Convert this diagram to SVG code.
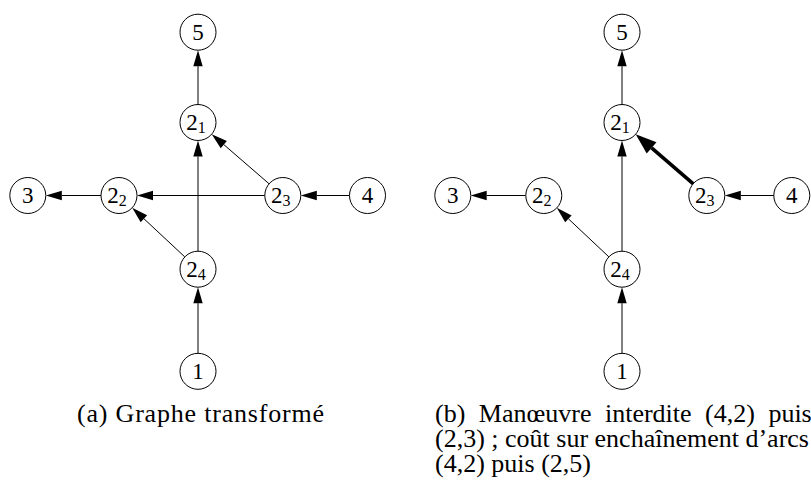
<svg xmlns="http://www.w3.org/2000/svg" width="811" height="484" viewBox="0 0 811 484">
<style>
.node circle{fill:#fff;stroke:#000;stroke-width:1}
.node text{font-family:'Liberation Serif','DejaVu Serif','Times New Roman',serif;font-size:23px;text-anchor:middle;fill:#000}
.sub{font-size:16px}
.edge{stroke:#000;stroke-width:1;fill:none;marker-end:url(#arr)}
.bold{stroke:#000;stroke-width:3.6;fill:none;marker-end:url(#arrb)}
.cap{font-family:'Liberation Serif','DejaVu Serif','Times New Roman',serif;font-size:26px;fill:#000}
</style>
<defs>
<marker id="arr" markerUnits="userSpaceOnUse" markerWidth="16" markerHeight="10" refX="0" refY="5" orient="auto" overflow="visible">
<path d="M0,0.3 L16,5 L0,9.7 z" fill="#000"/>
</marker>
<marker id="arrb" markerUnits="userSpaceOnUse" markerWidth="21" markerHeight="15" refX="0" refY="7.5" orient="auto" overflow="visible">
<path d="M0,0 L21,7.5 L0,15 z" fill="#000"/>
</marker>
</defs>
<rect width="811" height="484" fill="#fff"/>

<!-- Graph (a) -->
<g id="edges-a">
<line class="edge" x1="198" y1="353.3" x2="198" y2="303.2"/>
<line class="edge" x1="198" y1="251.2" x2="198" y2="156.5"/>
<line class="edge" x1="198" y1="104.5" x2="198" y2="66.2"/>
<line class="edge" x1="349.5" y1="195.5" x2="316.8" y2="195.5"/>
<line class="edge" x1="264.8" y1="195.5" x2="153" y2="195.5"/>
<line class="edge" x1="101" y1="195.5" x2="61.8" y2="195.5"/>
<line class="edge" x1="269.1" y1="183.8" x2="223.8" y2="144.6"/>
<line class="edge" x1="184.8" y1="256.9" x2="143.9" y2="218.7"/>
</g>
<g id="a-n5" class="node"><circle cx="198" cy="32.2" r="18"/><text x="198" y="40">5</text></g>
<g id="a-n21" class="node"><circle cx="198" cy="122.5" r="18"/><text x="196" y="130.3">2<tspan class="sub" dy="3">1</tspan></text></g>
<g id="a-n3" class="node"><circle cx="27.8" cy="195.5" r="18"/><text x="27.8" y="203.3">3</text></g>
<g id="a-n22" class="node"><circle cx="119" cy="195.5" r="18"/><text x="117" y="203.3">2<tspan class="sub" dy="3">2</tspan></text></g>
<g id="a-n23" class="node"><circle cx="282.8" cy="195.5" r="18"/><text x="280.8" y="203.3">2<tspan class="sub" dy="3">3</tspan></text></g>
<g id="a-n4" class="node"><circle cx="367.5" cy="195.5" r="18"/><text x="367.5" y="203.3">4</text></g>
<g id="a-n24" class="node"><circle cx="198" cy="269.2" r="18"/><text x="196" y="277">2<tspan class="sub" dy="3">4</tspan></text></g>
<g id="a-n1" class="node"><circle cx="198" cy="371.3" r="18"/><text x="198" y="379.1">1</text></g>
<text class="cap" x="77" y="422" textLength="247" lengthAdjust="spacing">(a) Graphe transformé</text>

<!-- Graph (b) -->
<g id="edges-b">
<line class="edge" x1="622" y1="353.3" x2="622" y2="303.2"/>
<line class="edge" x1="622" y1="251.2" x2="622" y2="156.5"/>
<line class="edge" x1="622" y1="104.5" x2="622" y2="66.2"/>
<line class="edge" x1="774" y1="195.5" x2="740.8" y2="195.5"/>
<line class="edge" x1="525.7" y1="195.5" x2="486.7" y2="195.5"/>
<line class="bold" x1="693.3" y1="183.8" x2="651.6" y2="147.9"/>
<line class="edge" x1="608.9" y1="256.9" x2="568.4" y2="218.8"/>
</g>
<g id="b-n5" class="node"><circle cx="622" cy="32.2" r="18"/><text x="622" y="40">5</text></g>
<g id="b-n21" class="node"><circle cx="622" cy="122.5" r="18"/><text x="620" y="130.3">2<tspan class="sub" dy="3">1</tspan></text></g>
<g id="b-n3" class="node"><circle cx="452.8" cy="195.5" r="18"/><text x="452.8" y="203.3">3</text></g>
<g id="b-n22" class="node"><circle cx="543.8" cy="195.5" r="18"/><text x="541.8" y="203.3">2<tspan class="sub" dy="3">2</tspan></text></g>
<g id="b-n23" class="node"><circle cx="706.8" cy="195.5" r="18"/><text x="704.8" y="203.3">2<tspan class="sub" dy="3">3</tspan></text></g>
<g id="b-n4" class="node"><circle cx="791.8" cy="195.5" r="18"/><text x="791.8" y="203.3">4</text></g>
<g id="b-n24" class="node"><circle cx="622" cy="269.2" r="18"/><text x="620" y="277">2<tspan class="sub" dy="3">4</tspan></text></g>
<g id="b-n1" class="node"><circle cx="622" cy="371.3" r="18"/><text x="622" y="379.1">1</text></g>
<text class="cap" x="435" y="422" word-spacing="7">(b) Manœuvre interdite (4,2) puis</text>
<text class="cap" x="435" y="447">(2,3) ; coût sur enchaînement d’arcs</text>
<text class="cap" x="435" y="472">(4,2) puis (2,5)</text>
</svg>
